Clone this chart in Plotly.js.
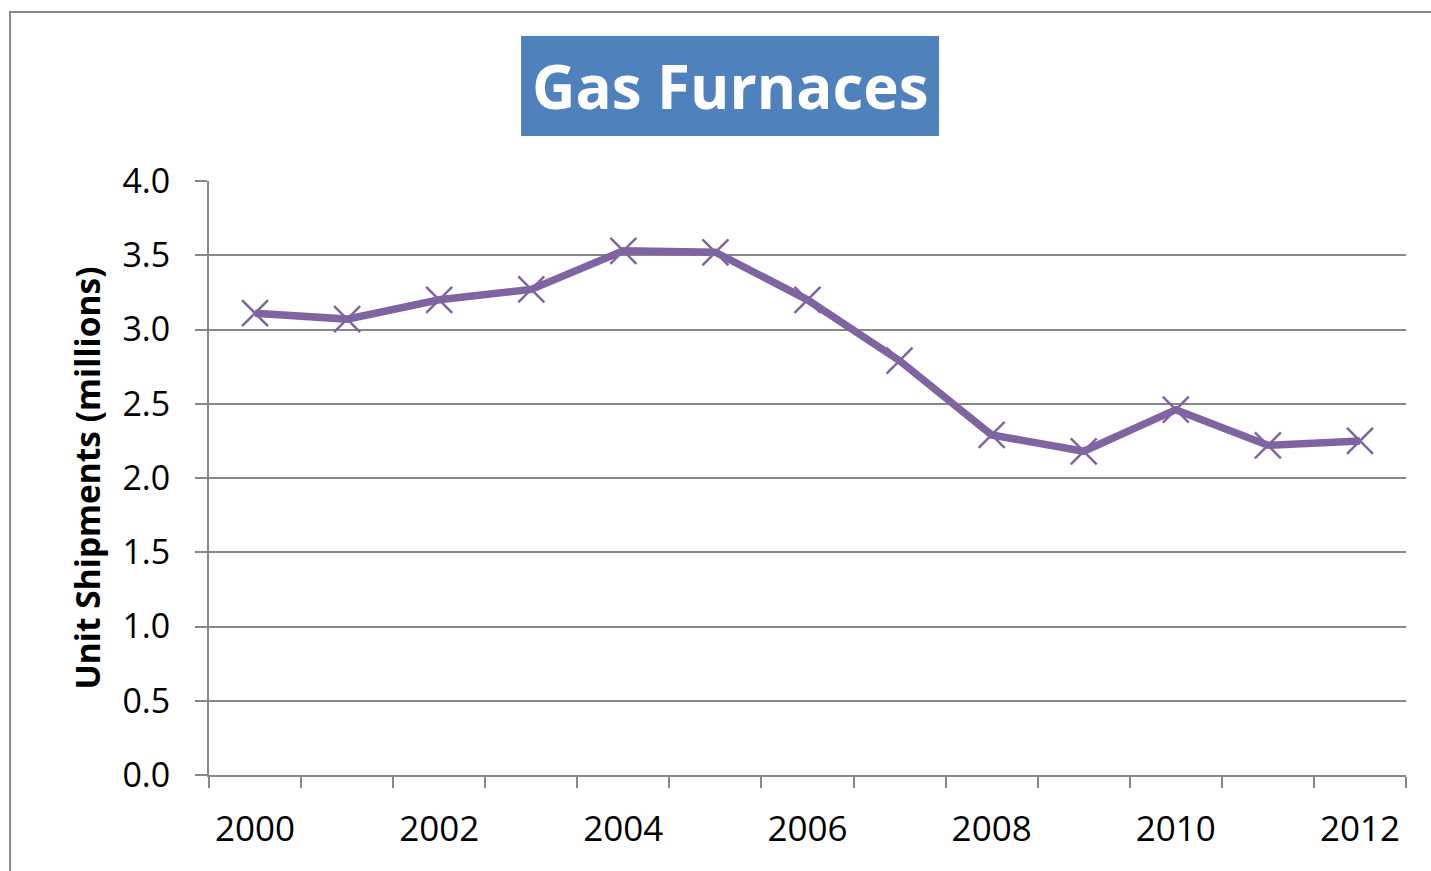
<!DOCTYPE html>
<html>
<head>
<meta charset="utf-8">
<script src="https://cdn.plot.ly/plotly-3.0.1.min.js"></script>
<style>
  body { margin: 0; background: #fff; }
  #plot { width: 1431px; height: 871px; }
</style>
</head>
<body>
<div id="plot"></div>
<script>
let years = [2000, 2001, 2002, 2003, 2004, 2005, 2006, 2007, 2008, 2009, 2010, 2011, 2012];
let shipments = [3.11, 3.07, 3.20, 3.27, 3.53, 3.52, 3.20, 2.79, 2.29, 2.18, 2.46, 2.22, 2.25];
let yearLabels = [2000, 2002, 2004, 2006, 2008, 2010, 2012];

let chartTitle = 'Gas Furnaces';
let yTitle = 'Unit Shipments (millions)';

let gray = '#878787';
let purple = '#8064A2';

function plot(xs, ys) {
    let trace1 = {
        x: xs,
        y: ys,
        type: 'scatter',
        mode: 'lines+markers',
        line: {color: purple, width: 7.5},
        marker: {symbol: 'x-thin-open', size: 26, color: purple, line: {color: purple, width: 2.5}},
        hoverinfo: 'x+y'
    };

    let layout = {
        width: 1431,
        height: 871,
        margin: {l: 209, r: 25, t: 181, b: 96},
        paper_bgcolor: '#fff',
        plot_bgcolor: '#fff',
        showlegend: false,
        font: {family: 'Open Sans, sans-serif', color: '#000'},
        xaxis: {
            range: [1999.5, 2012.5],
            tickvals: yearLabels,
            ticktext: yearLabels.map(String),
            ticks: '',
            showgrid: false,
            zeroline: false,
            showline: true,
            linecolor: gray,
            linewidth: 2,
            tickfont: {size: 35},
            ticklabelstandoff: 22,
            minor: {ticks: 'outside', tick0: 1999.5, dtick: 1, ticklen: 11, tickwidth: 2, tickcolor: gray, showgrid: false}
        },
        yaxis: {
            range: [0, 4],
            dtick: 0.5,
            tickformat: '.1f',
            ticks: 'outside',
            ticklen: 12,
            tickwidth: 2,
            tickcolor: gray,
            showgrid: true,
            gridcolor: gray,
            gridwidth: 2,
            zeroline: false,
            showline: true,
            linecolor: gray,
            linewidth: 2,
            tickfont: {size: 34},
            ticklabelstandoff: 18,
            title: {text: yTitle, font: {size: 33.5, weight: 'bold'}, standoff: 12}
        },
        shapes: [
            // outer chart border (runs off the right and bottom edge)
            {type: 'rect', xref: 'paper', yref: 'paper', x0: -0.1662, x1: 1.03, y0: -0.18, y1: 1.2845,
             line: {color: gray, width: 2}, fillcolor: 'rgba(0,0,0,0)', layer: 'below'},
            // title box
            {type: 'rect', xref: 'paper', yref: 'paper', x0: 0.2607, x1: 0.6099, y0: 1.0758, y1: 1.2441,
             line: {width: 0}, fillcolor: '#4F81BD'}
        ],
        annotations: [
            {text: chartTitle, xref: 'paper', yref: 'paper', x: 0.4353, y: 1.16, xanchor: 'center', yanchor: 'middle',
             showarrow: false, font: {size: 60, color: '#fff', weight: 'bold'}}
        ]
    };

    Plotly.newPlot('plot', [trace1], layout, {displayModeBar: false});
}

plot(years, shipments);
</script>
</body>
</html>
